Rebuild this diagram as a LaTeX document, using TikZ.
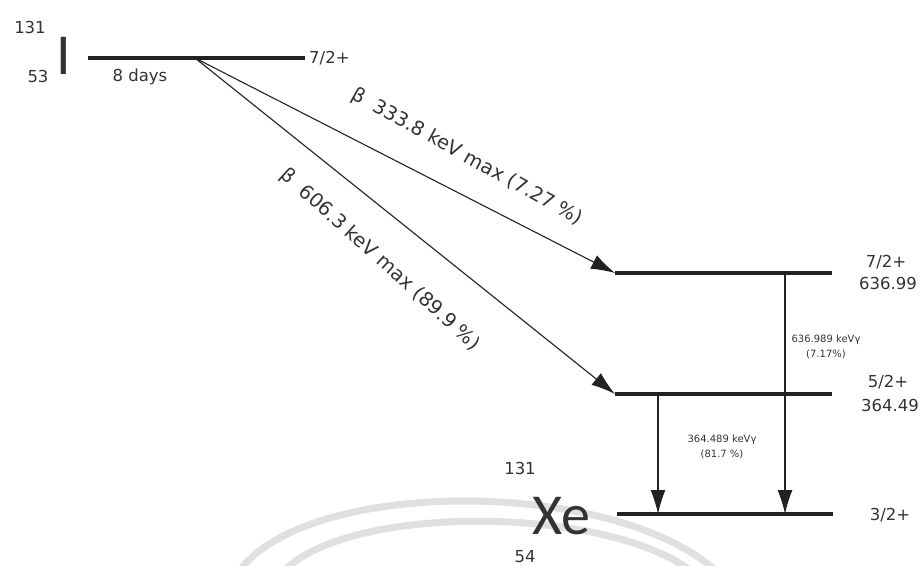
\documentclass[tikz,border=0pt]{standalone}
\usepackage{fontspec}
\setmainfont{DejaVu Sans}
\newfontfamily\elemfont{Carlito}
\usetikzlibrary{arrows.meta}
\definecolor{ink}{HTML}{222222}
\definecolor{txt}{HTML}{333333}
\definecolor{wm}{HTML}{E0E0E0}
\begin{document}
\begin{tikzpicture}[x=1pt,y=-1pt,
  lbl/.style={text=txt, inner sep=0pt, font=\fontsize{16.5}{18}\selectfont},
  tinylbl/.style={text=txt, inner sep=0pt, font=\fontsize{10}{11}\selectfont},
  elem/.style={text=txt, inner sep=0pt, font=\elemfont\fontsize{58}{60}\selectfont},
  blbl/.style={text=txt, inner sep=0pt, font=\fontsize{19.5}{21}\selectfont},
  level/.style={draw=ink, line width=3.5pt},
  decay/.style={draw=ink, line width=1.1pt, -{Latex[length=24pt,width=15pt]}},
  wmark/.style={draw=wm, line width=7pt}
]
\useasboundingbox (0,0) rectangle (923,565);
% faint watermark arcs
\begin{scope}
\clip (0,0) rectangle (923,565);
\draw[wmark] (240,570) .. controls (310,478) and (610,478) .. (715,570);
\draw[wmark] (285,570) .. controls (350,505) and (600,505) .. (690,570);
\end{scope}
% parent I-131
\node[lbl] (mI) at (30,27) {131};
\node[elem] (I) at (64,56) {I};
\node[lbl] (zI) at (38,76) {53};
\coordinate (p0l) at (88,58);
\coordinate (p0r) at (305,58);
\coordinate (br) at (195,58);
\draw[level] (p0l) -- (p0r);
\node[lbl, anchor=west] (s0) at (309,58) {7/2+};
\node[lbl] (half) at (140,77) {8 days};
% daughter levels
\coordinate (l1l) at (615,273);
\coordinate (l1r) at (832,273);
\coordinate (l2l) at (615,394);
\coordinate (l2r) at (832,394);
\coordinate (l0l) at (617,514);
\coordinate (l0r) at (833,514);
\draw[level] (l1l) -- (l1r);
\draw[level] (l2l) -- (l2r);
\draw[level] (l0l) -- (l0r);
\node[lbl] (s1) at (886,262) {7/2+};
\node[lbl] (e1) at (888,283) {636.99};
\node[lbl] (s2) at (888,382) {5/2+};
\node[lbl] (e2) at (890,405) {364.49};
\node[lbl] (s3) at (890,515) {3/2+};
% beta branches
\draw[decay] (br) -- (l1l);
\draw[decay] (br) -- (l2l);
\node[blbl, rotate=-29] (b1) at (467,157) {β\ \ 333.8 keV max (7.27 \%)};
\node[blbl, rotate=-42] (b2) at (380,260) {β\ \ 606.3 keV max (89.9 \%)};
% gamma transitions
\coordinate (g1t) at (785,273);
\coordinate (g1b) at (785,514);
\coordinate (g2t) at (658,394);
\coordinate (g2b) at (658,514);
\draw[decay] (g1t) -- (g1b);
\draw[decay] (g2t) -- (g2b);
\node[tinylbl] (gl1) at (826,340) {636.989 keVγ};
\node[tinylbl] (gp1) at (826,354) {(7.17\%)};
\node[tinylbl] (gl2) at (722,440) {364.489 keVγ};
\node[tinylbl] (gp2) at (722,454) {(81.7 \%)};
% daughter Xe-131
\node[lbl] (mXe) at (520,468) {131};
\node[elem] (Xe) at (561,516) {Xe};
\node[lbl] (zXe) at (525,557) {54};
\end{tikzpicture}
\end{document}
